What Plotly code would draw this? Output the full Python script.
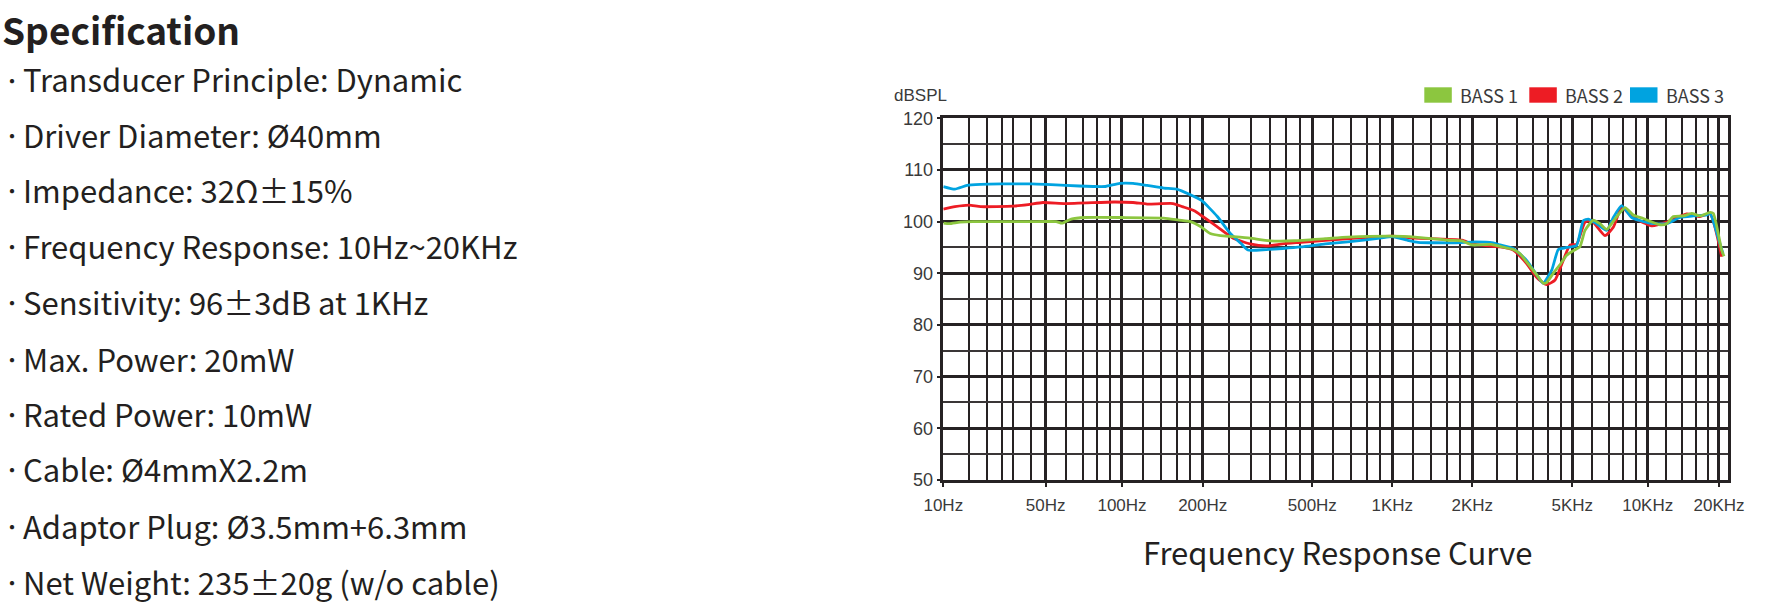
import numpy as np
import plotly.graph_objects as go

# ---------------- data ----------------
SERIES_NAMES = ["BASS 1", "BASS 2", "BASS 3"]

bass1_hz = [10, 11, 13, 16, 25, 40, 55, 58, 63, 72, 100, 143, 163, 180, 197, 213, 232, 258, 297, 350,
            430, 560, 680, 1000, 1220, 1620, 1830, 1990, 2380, 2580, 2910, 3100, 3290, 3610, 3830, 3950,
            4200, 4500, 4750, 5100, 5360, 5620, 6060, 6450, 6860, 7400, 8120, 8760, 9600, 11270, 12030,
            12830, 14140, 15340, 16630, 18330, 18930, 20530, 21000]
bass1_db = [99.7, 99.6, 99.9, 100.0, 100.0, 100.0, 100.0, 99.7, 100.5, 100.8, 100.8, 100.7, 100.3, 100.0,
            99.0, 97.7, 97.3, 97.1, 96.8, 96.3, 96.3, 96.7, 97.0, 97.2, 97.0, 96.4, 96.3, 95.5, 95.6, 95.2,
            94.6, 93.8, 92.2, 89.7, 88.1, 88.2, 90.0, 91.9, 93.5, 94.5, 95.1, 98.3, 100.3, 99.6, 98.5, 100.5,
            102.7, 101.3, 100.6, 99.4, 99.6, 101.0, 101.1, 101.6, 101.1, 101.8, 101.6, 94.5, 93.3]

bass2_hz = [10, 12, 15, 18, 30, 38, 48, 60, 93, 110, 124, 155, 168, 186, 200, 226, 258, 297, 340, 390,
            455, 560, 900, 1000, 1220, 1830, 1990, 2330, 2580, 2910, 3290, 3610, 3950, 4270, 4600, 4900,
            5200, 5620, 5970, 6750, 7290, 7870, 8760, 10400, 12030, 14610, 16630, 18330, 20530]
bass2_db = [102.4, 102.9, 103.2, 102.9, 103.0, 103.3, 103.7, 103.5, 103.8, 103.7, 103.4, 103.5, 102.9,
            102.1, 101.0, 99.0, 96.8, 95.7, 95.3, 95.7, 96.0, 96.4, 97.1, 97.2, 96.8, 96.4, 95.7, 95.3,
            95.1, 94.5, 91.9, 89.2, 87.8, 88.7, 92.5, 95.5, 95.6, 99.9, 100.2, 97.3, 98.9, 102.7, 100.8,
            99.2, 99.9, 101.5, 101.0, 101.5, 93.2]

bass3_hz = [10, 12, 14.5, 18, 25, 40, 50, 60, 77, 86, 98, 110, 124, 143, 160, 180, 198, 226, 252, 275,
            292, 340, 390, 455, 560, 680, 900, 1000, 1140, 1250, 1720, 2050, 2420, 2580, 2910, 3290, 3610,
            3830, 4140, 4400, 4750, 5200, 5530, 5790, 6250, 6860, 7290, 7870, 8630, 10230, 12030, 13690,
            15580, 17740, 18330, 20200, 20800]
bass3_db = [106.8, 106.3, 107.0, 107.2, 107.3, 107.3, 107.2, 107.0, 106.8, 106.8, 107.4, 107.4, 107.0,
            106.5, 106.3, 105.2, 104.1, 101.0, 97.7, 95.8, 94.5, 94.6, 94.8, 95.1, 95.7, 96.1, 96.8, 97.1,
            96.4, 96.0, 95.9, 96.1, 95.9, 95.5, 94.8, 92.5, 89.7, 88.1, 90.6, 94.6, 95.0, 95.4, 100.2, 100.5,
            99.6, 98.3, 100.8, 103.1, 100.8, 99.7, 99.6, 100.8, 101.1, 101.3, 101.6, 95.7, 93.8]

x_tick_hz = [10, 50, 100, 200, 500, 1000, 2000, 5000, 10000, 20000]
x_tick_text = ["10Hz", "50Hz", "100Hz", "200Hz", "500Hz", "1KHz", "2KHz", "5KHz", "10KHz", "20KHz"]
x_minor_hz = [15, 20, 25, 30, 40, 60, 70, 80, 90, 120, 140, 160, 180, 250, 300, 350, 400, 450,
              600, 700, 800, 900, 1200, 1400, 1600, 1800, 2500, 3000, 3500, 4000, 4500,
              6000, 7000, 8000, 9000, 12000, 14000, 16000, 18000]
y_ticks = [50, 60, 70, 80, 90, 100, 110, 120]

spec_title = "Specification"
spec_lines = [
    "Transducer Principle: Dynamic",
    "Driver Diameter: Ø40mm",
    "Impedance: 32Ω±15%",
    "Frequency Response: 10Hz~20KHz",
    "Sensitivity: 96±3dB at 1KHz",
    "Max. Power: 20mW",
    "Rated Power: 10mW",
    "Cable: Ø4mmX2.2m",
    "Adaptor Plug: Ø3.5mm+6.3mm",
    "Net Weight: 235±20g (w/o cable)",
]
chart_title = "Frequency Response Curve"
y_unit = "dBSPL"

# ---------------- styling / axis scale ----------------
W, H = 1772, 610
COLORS = ["#8cc63f", "#ed1c24", "#00a3e0"]
GRID = "#262223"
TXT = "#231f20"
TICKFONT = "Liberation Sans Narrow, Arial Narrow, Liberation Sans, Arial, sans-serif"
HFONT = "Noto Sans CJK SC, Noto Sans, sans-serif"

# the printed chart uses a non-uniform frequency axis; reproduce it by anchoring
AX_HZ = [10, 50, 100, 200, 500, 1000, 2000, 5000, 10000, 20000, 25000]
AX_POS = [0, 0.1305, 0.2278, 0.3307, 0.4704, 0.5724, 0.6744, 0.8019, 0.8980, 0.9889, 1.0182]


def warp(f):
    return np.interp(np.log10(np.asarray(f, dtype=float)), np.log10(AX_HZ), AX_POS)


def px(x):
    return x / W


def py(y):
    return 1 - y / H


fig = go.Figure()
order = [1, 2, 0]  # draw red, blue, then green on top
data = [(bass1_hz, bass1_db), (bass2_hz, bass2_db), (bass3_hz, bass3_db)]
for i in order:
    hz, db = data[i]
    fig.add_trace(go.Scatter(
        x=warp(hz), y=db, mode="lines", name=SERIES_NAMES[i],
        customdata=hz, hovertemplate="%{customdata} Hz: %{y} dB<extra>" + SERIES_NAMES[i] + "</extra>",
        line=dict(color=COLORS[i], width=2.8, shape="spline", smoothing=0.5),
        showlegend=False,
    ))

annotations = []
shapes = []

# legend (rectangular swatches)
leg_sw_x = [1424.3, 1529.3, 1630.0]
for i, name in enumerate(SERIES_NAMES):
    x0 = leg_sw_x[i]
    shapes.append(dict(type="rect", xref="paper", yref="paper",
                       x0=px(x0), x1=px(x0 + 27.5), y0=py(102.7), y1=py(87.3),
                       fillcolor=COLORS[i], line=dict(width=0)))
    annotations.append(dict(text=name, xref="paper", yref="paper", x=px(x0 + 33.5), y=py(94.8),
                            xanchor="left", yanchor="middle", showarrow=False,
                            font=dict(family=HFONT, size=18, color="#3a3a3a")))

# unit label
annotations.append(dict(text=y_unit, xref="paper", yref="paper", x=px(920.5), y=py(95),
                        xanchor="center", yanchor="middle", showarrow=False,
                        font=dict(family=TICKFONT, size=17, color="#3a3a3a")))
# chart title
annotations.append(dict(text=chart_title, xref="paper", yref="paper", x=px(1337.5), y=py(551),
                        xanchor="center", yanchor="middle", showarrow=False,
                        font=dict(family=HFONT, size=31, color=TXT)))
# spec block
annotations.append(dict(text="<b>" + spec_title + "</b>", xref="paper", yref="paper", x=0, y=1,
                        xanchor="left", yanchor="top", showarrow=False,
                        font=dict(family=HFONT, size=37, color=TXT)))
line_y = [79, 134.4, 189.8, 245, 301.6, 358, 413.4, 468.8, 525.3, 581.7]
for ly, t in zip(line_y, spec_lines):
    annotations.append(dict(text="・", xref="paper", yref="paper", x=0, y=py(ly + 1),
                            xanchor="left", yanchor="middle", showarrow=False,
                            font=dict(family=HFONT, size=20, color=TXT)))
    annotations.append(dict(text=t, xref="paper", yref="paper", x=px(21), y=py(ly),
                            xanchor="left", yanchor="middle", showarrow=False,
                            font=dict(family=HFONT, size=31, color=TXT)))

fig.update_layout(
    width=W, height=H,
    margin=dict(l=0, r=0, t=0, b=0, pad=0, autoexpand=False),
    paper_bgcolor="white", plot_bgcolor="white",
    showlegend=False,
    annotations=annotations,
    shapes=shapes,
    xaxis=dict(
        domain=[px(943.3), px(1727.7)], range=[0, 1], automargin=False,
        tickmode="array", tickvals=warp(x_tick_hz), ticktext=x_tick_text,
        ticks="outside", ticklen=4, tickwidth=2, tickcolor=GRID,
        ticklabelstandoff=4,
        tickfont=dict(family=TICKFONT, size=17, color="#3a3a3a"),
        showgrid=True, gridcolor=GRID, gridwidth=2.5,
        minor=dict(tickmode="array", tickvals=warp(x_minor_hz), showgrid=True,
                   gridcolor=GRID, gridwidth=1.8, ticks=""),
        showline=True, linecolor=GRID, linewidth=2.5, mirror=True,
        zeroline=False, fixedrange=True,
    ),
    yaxis=dict(
        domain=[py(480), py(118.3)], range=[50, 120], automargin=False,
        tickmode="array", tickvals=y_ticks,
        ticks="outside", ticklen=4, tickwidth=2, tickcolor=GRID,
        tickfont=dict(family=TICKFONT, size=18, color="#3a3a3a"),
        showgrid=True, gridcolor=GRID, gridwidth=2.5,
        minor=dict(dtick=5, tick0=50, showgrid=True, gridcolor="#3a3637", gridwidth=1.8, ticks=""),
        showline=True, linecolor=GRID, linewidth=2.5, mirror=True,
        zeroline=False, fixedrange=True,
    ),
)

fig.write_html("out.html", config={"displayModeBar": False},
               post_script="document.body.style.margin='0';")
